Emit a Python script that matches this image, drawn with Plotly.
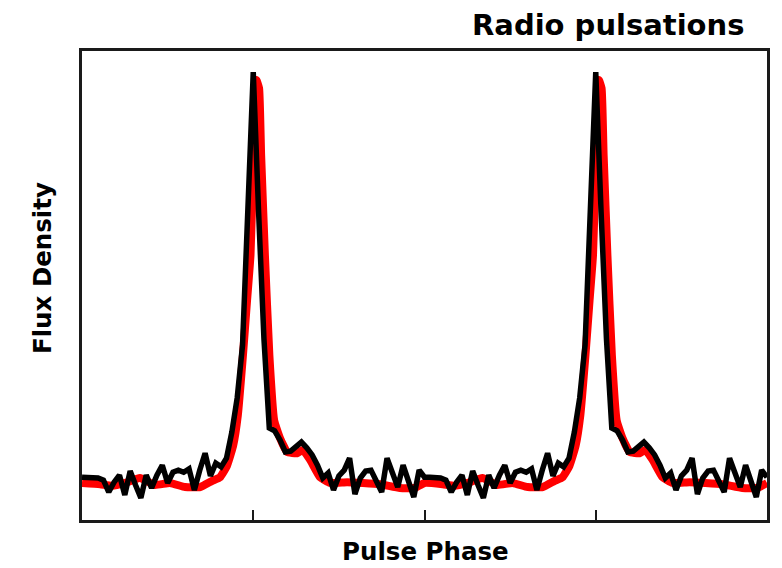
import plotly.graph_objects as go

# One pulse period (64 phase bins), observed profile (normalised flux)
bins_per_period = 64
observed_flux = [
    0.019, 0.019, 0.019, 0.017, 0.012, -0.017, 0.007, 0.024,
    -0.024, 0.034, 0.000, -0.031, 0.024, -0.007, 0.024, 0.048,
    0.005, 0.031, 0.036, 0.031, 0.039, -0.012, 0.036, 0.077,
    0.022, 0.053, 0.044, 0.065, 0.128, 0.211, 0.339, 0.637,
    1.000, 0.661, 0.354, 0.138, 0.131, 0.109, 0.080, 0.082,
    0.092, 0.104, 0.090, 0.073, 0.048, 0.017, 0.029, -0.012,
    0.022, 0.036, 0.065, -0.022, 0.017, 0.034, 0.036, 0.012,
    -0.017, 0.065, 0.031, -0.005, 0.048, 0.012, -0.029, 0.036,
]

# Smooth template profile for one period
template_phase = [
    0.000, 0.053, 0.088, 0.126, 0.169, 0.213, 0.257, 0.301, 0.345,
    0.380, 0.403, 0.423, 0.441, 0.455, 0.470, 0.482, 0.492, 0.501,
    0.509, 0.517, 0.523, 0.534, 0.547, 0.561, 0.578, 0.599, 0.628,
    0.645, 0.666, 0.695, 0.724, 0.774, 0.820, 0.870, 0.928, 0.972,
]
template_flux = [
    0.005, 0.002, -0.002, 0.005, 0.017, 0.000, 0.005, -0.005, -0.005,
    0.010, 0.019, 0.046, 0.094, 0.169, 0.315, 0.448, 0.557, 0.799,
    0.981, 0.961, 0.799, 0.557, 0.315, 0.157, 0.114, 0.080, 0.077,
    0.085, 0.061, 0.019, 0.005, 0.007, 0.005, 0.002, -0.007, -0.007,
]

tick_phases = [0.5, 1.0, 1.5]
n_periods = 2

# Build two periods
obs_x, obs_y = [], []
for p in range(n_periods):
    for k, v in enumerate(observed_flux):
        obs_x.append(p + k / bins_per_period)
        obs_y.append(v)
obs_x.append(float(n_periods))
obs_y.append(observed_flux[0])

tmp_x, tmp_y = [], []
for p in range(n_periods):
    for ph, v in zip(template_phase, template_flux):
        tmp_x.append(p + ph)
        tmp_y.append(v)
tmp_x.append(float(n_periods))
tmp_y.append(template_flux[0])

fig = go.Figure()
fig.add_trace(go.Scatter(x=tmp_x, y=tmp_y, mode="lines",
                         line=dict(color="#ff0000", width=8, shape="spline", smoothing=0.4),
                         hoverinfo="skip", showlegend=False))
fig.add_trace(go.Scatter(x=obs_x, y=obs_y, mode="lines",
                         line=dict(color="#000000", width=5.5),
                         showlegend=False))

L, R, T, B = 82, 14.5, 51, 48
W, H = 782, 568
pw, ph = W - L - R, H - T - B

def px(xp):
    return (xp - L) / pw

def py(yp):
    return (H - B - yp) / ph

label_font = "DejaVu Sans"

fig.update_layout(
    width=W, height=H,
    margin=dict(l=L, r=R, t=T, b=B, pad=0),
    paper_bgcolor="white", plot_bgcolor="white",
    font=dict(family=label_font, color="black"),
    xaxis=dict(range=[0, 2], showgrid=False, zeroline=False,
               showline=True, linecolor="#1a1a1a", linewidth=2.5, mirror=True,
               ticks="inside", tickvals=tick_phases, ticklen=10, tickwidth=2,
               tickcolor="#1a1a1a", showticklabels=False),
    yaxis=dict(range=[-0.0847, 1.051], showgrid=False, zeroline=False,
               showline=True, linecolor="#1a1a1a", linewidth=2.5, mirror=True,
               ticks="", showticklabels=False),
    annotations=[
        dict(text="Radio pulsations", xref="paper", yref="paper",
             x=px(746), y=py(25), xanchor="right", yanchor="middle",
             showarrow=False, font=dict(size=29, weight="bold", family=label_font)),
        dict(text="Flux Density", xref="paper", yref="paper",
             x=px(42), y=py(268), xanchor="center", yanchor="middle",
             textangle=-90, showarrow=False, font=dict(size=24.5, weight="bold", family=label_font)),
        dict(text="Pulse Phase", xref="paper", yref="paper",
             x=px(426), y=py(551), xanchor="center", yanchor="middle",
             showarrow=False, font=dict(size=24.5, weight="bold", family=label_font)),
    ],
)

fig.write_html("out.html")
